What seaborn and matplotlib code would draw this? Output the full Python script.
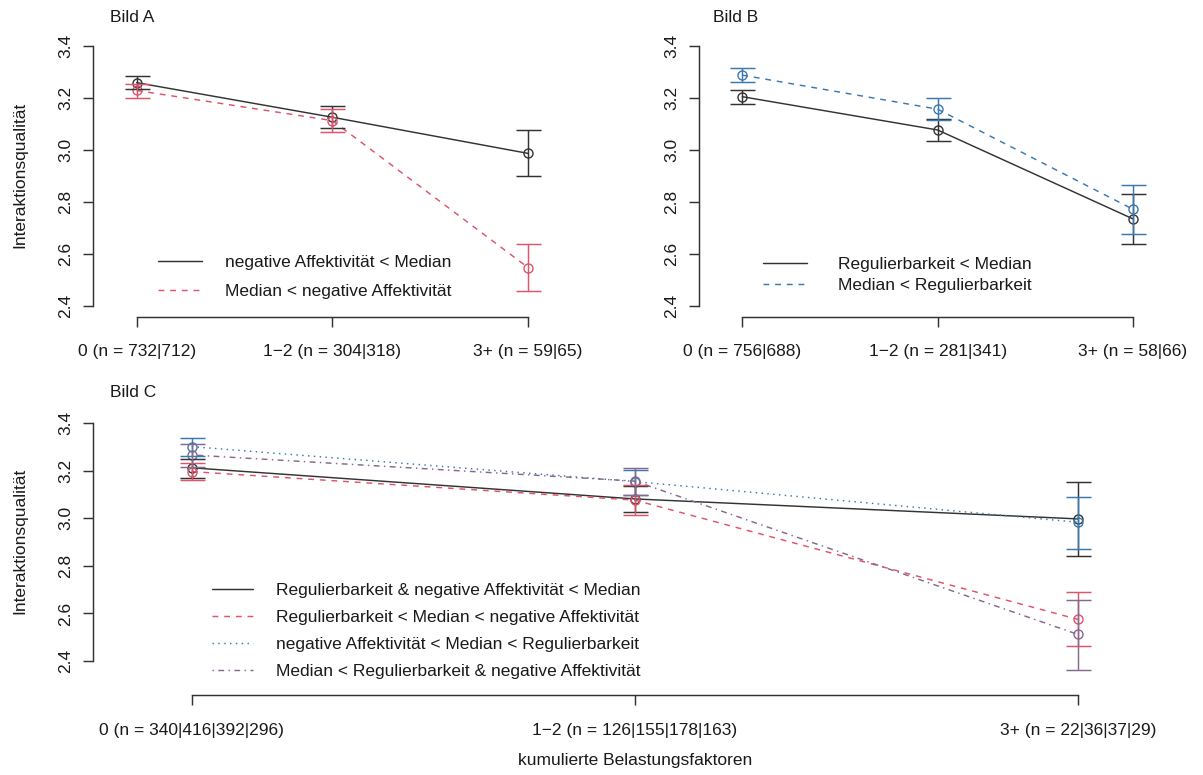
import numpy as np
import pandas as pd
import seaborn as sns
import matplotlib.pyplot as plt
from matplotlib.lines import Line2D

# ---------------- data ----------------
cats_A = ["0 (n = 732|712)", "1\u22122 (n = 304|318)", "3+ (n = 59|65)"]
A_groups = ["negative Affektivität < Median", "Median < negative Affektivität"]
A_low_mean = [3.259, 3.126, 2.987]
A_low_lo = [3.235, 3.086, 2.899]
A_low_hi = [3.286, 3.169, 3.077]
A_high_mean = [3.229, 3.113, 2.548]
A_high_lo = [3.200, 3.070, 2.456]
A_high_hi = [3.254, 3.158, 2.638]

cats_B = ["0 (n = 756|688)", "1\u22122 (n = 281|341)", "3+ (n = 58|66)"]
B_groups = ["Regulierbarkeit < Median", "Median < Regulierbarkeit"]
B_low_mean = [3.205, 3.077, 2.735]
B_low_lo = [3.178, 3.036, 2.640]
B_low_hi = [3.231, 3.119, 2.832]
B_high_mean = [3.288, 3.157, 2.772]
B_high_lo = [3.260, 3.115, 2.677]
B_high_hi = [3.317, 3.199, 2.865]

cats_C = ["0 (n = 340|416|392|296)", "1\u22122 (n = 126|155|178|163)", "3+ (n = 22|36|37|29)"]
C_groups = ["Regulierbarkeit & negative Affektivität < Median",
            "Regulierbarkeit < Median < negative Affektivität",
            "negative Affektivität < Median < Regulierbarkeit",
            "Median < Regulierbarkeit & negative Affektivität"]
C_g1_mean = [3.213, 3.082, 2.998]
C_g1_lo = [3.171, 3.028, 2.843]
C_g1_hi = [3.252, 3.136, 3.154]
C_g2_mean = [3.197, 3.077, 2.575]
C_g2_lo = [3.161, 3.014, 2.462]
C_g2_hi = [3.232, 3.140, 2.691]
C_g3_mean = [3.302, 3.155, 2.984]
C_g3_lo = [3.264, 3.098, 2.871]
C_g3_hi = [3.337, 3.205, 3.089]
C_g4_mean = [3.267, 3.157, 2.512]
C_g4_lo = [3.215, 3.100, 2.362]
C_g4_hi = [3.313, 3.213, 2.657]

y_ticks = [2.4, 2.6, 2.8, 3.0, 3.2, 3.4]
y_ticklabels = ["2.4", "2.6", "2.8", "3.0", "3.2", "3.4"]

# ---------------- styling ----------------
BLACK = "#333333"
RED = "#DF536B"
BLUE = "#3A78B0"
PURPLE = "#85698F"
FS = 12.5

sns.set_theme(style="white")
plt.rcParams['font.family'] = ['Liberation Sans', 'DejaVu Sans']
plt.rcParams['axes.edgecolor'] = BLACK
plt.rcParams['text.color'] = "#1a1a1a"
plt.rcParams['xtick.color'] = BLACK
plt.rcParams['ytick.color'] = BLACK
plt.rcParams['xtick.labelcolor'] = "#1a1a1a"
plt.rcParams['ytick.labelcolor'] = "#1a1a1a"

W, H = 1203, 775
fig = plt.figure(figsize=(W / 100, H / 100), dpi=100)
fig.patch.set_facecolor("white")


def add_ax(l, r, t, b):
    return fig.add_axes([l / W, 1 - b / H, (r - l) / W, (b - t) / H])


def draw_panel(ax, cats, groups, means, los, his, colors, dashes, xlim, ylim, xpad):
    rows = []
    for g, m in zip(groups, means):
        for i, v in enumerate(m):
            rows.append({"pos": i, "mean": v, "group": g})
    df = pd.DataFrame(rows)
    pal = dict(zip(groups, colors))
    dsh = dict(zip(groups, dashes))
    mk = {g: "o" for g in groups}
    sns.lineplot(data=df, x="pos", y="mean", hue="group", style="group",
                 palette=pal, dashes=dsh, markers=mk, markersize=6.5,
                 linewidth=1.05, legend=False, ax=ax, sort=False)
    for line in ax.lines:
        c = line.get_color()
        line.set_markerfacecolor("none")
        line.set_markeredgecolor(c)
        line.set_markeredgewidth(1.0)
    for g, m, lo, hi, c in zip(groups, means, los, his, colors):
        m = np.asarray(m); lo = np.asarray(lo); hi = np.asarray(hi)
        ax.errorbar(np.arange(len(m)), m, yerr=[m - lo, hi - m], fmt="none",
                    ecolor=c, elinewidth=1.05, capsize=9, capthick=1.05)
    ax.set_xlim(xlim)
    ax.set_ylim(ylim)
    ax.set_xticks(range(len(cats)))
    ax.set_xticklabels(cats)
    ax.set_yticks(y_ticks)
    ax.set_yticklabels(y_ticklabels)
    for s in ["top", "right"]:
        ax.spines[s].set_visible(False)
    ax.spines["left"].set_bounds(2.4, 3.4)
    ax.spines["bottom"].set_bounds(0, len(cats) - 1)
    for s in ["left", "bottom"]:
        ax.spines[s].set_linewidth(1.05)
    ax.tick_params(axis="both", which="major", bottom=True, left=True,
                   direction="out", length=7, width=1.05, labelsize=FS)
    ax.tick_params(axis="x", pad=xpad)
    ax.tick_params(axis="y", pad=7)
    for lab in ax.get_yticklabels():
        lab.set_rotation(90)
        lab.set_va("center")
    ax.set_xlabel("")
    ax.set_ylabel("")
    ax.patch.set_visible(False)


def add_legend(ax, groups, colors, dashes, left_px, center_px, hlen, tpad, lspace):
    handles = []
    for g, c, d in zip(groups, colors, dashes):
        ln = Line2D([], [], color=c, linewidth=1.05)
        if d:
            ln.set_dashes(d)
        handles.append(ln)
    ax.legend(handles=handles, labels=groups, loc="center left",
              bbox_to_anchor=(left_px / W, 1 - center_px / H),
              bbox_transform=fig.transFigure, frameon=False, fontsize=FS,
              handlelength=hlen, handletextpad=tpad, labelspacing=lspace,
              borderpad=0, borderaxespad=0)


# ---------------- Panel A ----------------
axA = add_ax(92.7, 572, 34, 317.3)
draw_panel(axA, cats_A, A_groups,
           [A_low_mean, A_high_mean], [A_low_lo, A_high_lo], [A_low_hi, A_high_hi],
           [BLACK, RED], ["", (4, 4)], (-0.2248, 2.2248), (2.3565, 3.4462), 12)
add_legend(axA, A_groups, [BLACK, RED], ["", (4, 4)], 158, 277, 2.53, 1.32, 0.75)

# ---------------- Panel B ----------------
axB = add_ax(699, 1177, 34, 317.3)
draw_panel(axB, cats_B, B_groups,
           [B_low_mean, B_high_mean], [B_low_lo, B_high_lo], [B_low_hi, B_high_hi],
           [BLACK, BLUE], ["", (4, 4)], (-0.2216, 2.2252), (2.3565, 3.4462), 12)
add_legend(axB, B_groups, [BLACK, BLUE], ["", (4, 4)], 763, 275, 2.53, 1.78, 0.3)

# ---------------- Panel C ----------------
axC = add_ax(92.7, 1177, 411, 695)
draw_panel(axC, cats_C, C_groups,
           [C_g1_mean, C_g2_mean, C_g3_mean, C_g4_mean],
           [C_g1_lo, C_g2_lo, C_g3_lo, C_g4_lo],
           [C_g1_hi, C_g2_hi, C_g3_hi, C_g4_hi],
           [BLACK, RED, BLUE, PURPLE], ["", (4, 4), (1, 3), (1, 3, 4, 3)],
           (-0.2235, 2.2235), (2.257, 3.452), 13)
add_legend(axC, C_groups, [BLACK, RED, BLUE, PURPLE], ["", (4, 4), (1, 3), (1, 3, 4, 3)],
           211.7, 631, 2.37, 1.32, 0.68)

# ---------------- texts ----------------
fig.text(110 / W, 1 - 17 / H, "Bild A", ha="left", va="center", fontsize=FS)
fig.text(713 / W, 1 - 17 / H, "Bild B", ha="left", va="center", fontsize=FS)
fig.text(110 / W, 1 - 392 / H, "Bild C", ha="left", va="center", fontsize=FS)
fig.text(20 / W, 1 - 175 / H, "Interaktionsqualität", rotation=90, ha="center", va="center", fontsize=FS)
fig.text(20 / W, 1 - 541 / H, "Interaktionsqualität", rotation=90, ha="center", va="center", fontsize=FS)
fig.text(635 / W, 1 - 760 / H, "kumulierte Belastungsfaktoren", ha="center", va="center", fontsize=FS)

fig.savefig("out.png", dpi=100, facecolor="white")
